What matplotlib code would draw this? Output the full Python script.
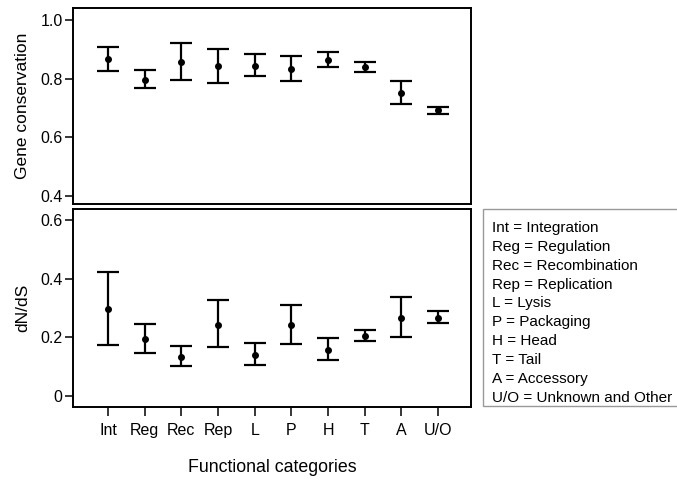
import matplotlib.pyplot as plt
import numpy as np
from matplotlib.patches import Rectangle

plt.rcParams['font.family'] = ['Liberation Sans', 'DejaVu Sans']

categories = ['Int', 'Reg', 'Rec', 'Rep', 'L', 'P', 'H', 'T', 'A', 'U/O']
full_names = ['Integration', 'Regulation', 'Recombination', 'Replication', 'Lysis',
              'Packaging', 'Head', 'Tail', 'Accessory', 'Unknown and Other']

# Gene conservation: mean, lower, upper
cons_mean = [0.866, 0.795, 0.856, 0.843, 0.843, 0.834, 0.864, 0.839, 0.752, 0.693]
cons_low = [0.826, 0.767, 0.795, 0.786, 0.811, 0.794, 0.839, 0.822, 0.714, 0.681]
cons_high = [0.907, 0.830, 0.923, 0.903, 0.883, 0.877, 0.892, 0.859, 0.793, 0.703]

# dN/dS: mean, lower, upper
dnds_mean = [0.296, 0.194, 0.134, 0.243, 0.141, 0.241, 0.158, 0.205, 0.266, 0.267]
dnds_low = [0.174, 0.148, 0.102, 0.166, 0.106, 0.176, 0.122, 0.189, 0.200, 0.248]
dnds_high = [0.422, 0.245, 0.170, 0.326, 0.180, 0.310, 0.199, 0.225, 0.338, 0.291]

x = np.arange(1, len(categories) + 1)

fig = plt.figure(figsize=(6.77, 4.8), dpi=100)
ax1 = fig.add_axes([0.108, 0.575, 0.588, 0.408])
ax2 = fig.add_axes([0.108, 0.152, 0.588, 0.4125])


def draw(ax, mean, low, high):
    mean = np.array(mean)
    yerr = [mean - np.array(low), np.array(high) - mean]
    ax.errorbar(x, mean, yerr=yerr, fmt='o', color='black', ms=4,
                elinewidth=1.6, capsize=8, capthick=1.6)
    ax.set_xlim(0.05, 10.9)
    for s in ax.spines.values():
        s.set_linewidth(1.4)
    ax.tick_params(axis='y', direction='out', length=6, width=1.1, labelsize=11.5, pad=1.5)


draw(ax1, cons_mean, cons_low, cons_high)
ax1.set_ylim(0.373, 1.041)
ax1.set_yticks([0.4, 0.6, 0.8, 1.0])
ax1.set_yticklabels(['0.4', '0.6', '0.8', '1.0'])
ax1.set_xticks([])
ax1.set_ylabel('Gene conservation', fontsize=12.5)

draw(ax2, dnds_mean, dnds_low, dnds_high)
ax2.set_ylim(-0.0375, 0.6375)
ax2.set_yticks([0, 0.2, 0.4, 0.6])
ax2.set_yticklabels(['0', '0.2', '0.4', '0.6'])
ax2.set_xticks(x)
ax2.set_xticklabels(categories)
ax2.tick_params(axis='x', direction='out', length=6.5, width=1.1, labelsize=11.5, pad=5)
ax2.set_xlabel('Functional categories', fontsize=12.8, labelpad=15)
ax2.set_ylabel('dN/dS', fontsize=12.5)
ax1.yaxis.set_label_coords(-0.108, 0.5)
ax2.yaxis.set_label_coords(-0.108, 0.5)

# key box
fig.add_artist(Rectangle((0.7134, 0.1542), 0.3, 0.4104, transform=fig.transFigure,
                         facecolor='white', edgecolor='#999999', linewidth=1.0))
key_text = '\n'.join(f'{c} = {n}' for c, n in zip(categories, full_names))
fig.text(0.7267, 0.5395, key_text, fontsize=11, va='top', ha='left', linespacing=1.44)

fig.savefig('out.png', dpi=100)
